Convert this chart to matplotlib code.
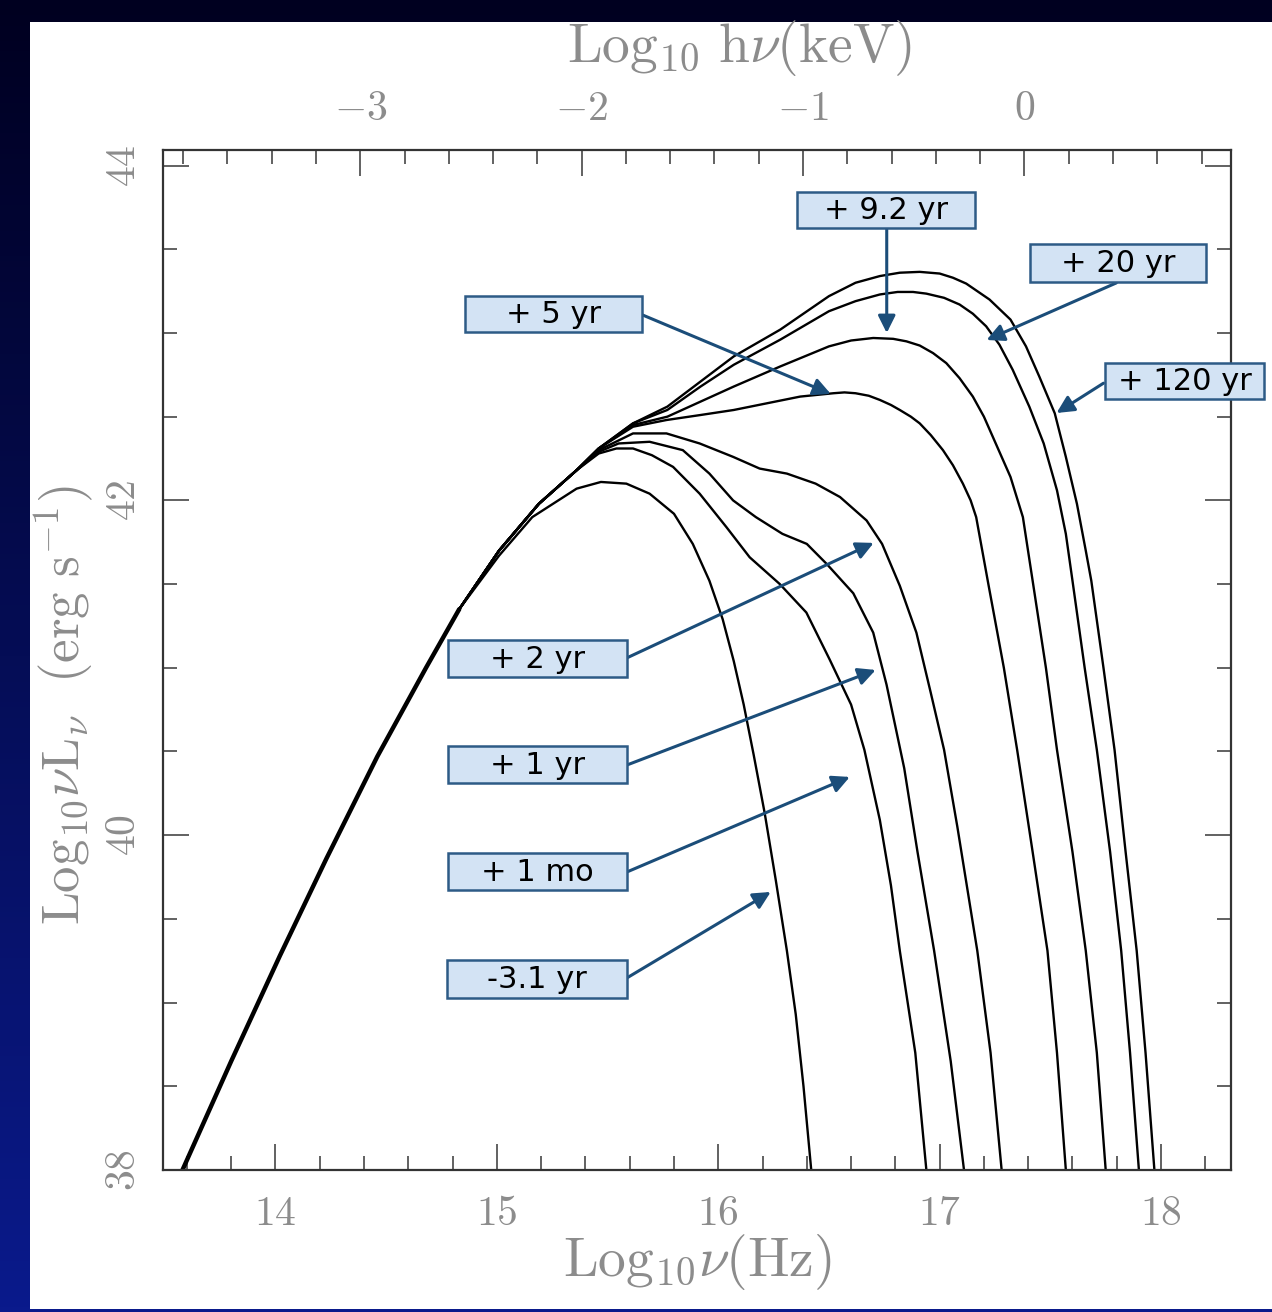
import numpy as np
import matplotlib
matplotlib.use('Agg')
import matplotlib.pyplot as plt
from matplotlib.patches import Rectangle

plt.rcParams['mathtext.fontset'] = 'cm'

# log10 nu (Hz) vs log10 nu L_nu (erg/s)
# shared Rayleigh-Jeans rise
rise_x = [13.58, 13.80, 14.02, 14.23, 14.46, 14.68, 14.83]
rise_y = [38.00, 38.65, 39.28, 39.86, 40.47, 41.00, 41.35]

# each epoch after it leaves the common rise
m3_1yr_x = [15.01, 15.16, 15.36, 15.47, 15.585, 15.69, 15.80, 15.885, 15.96, 16.02, 16.07,
            16.115, 16.16, 16.21, 16.26, 16.31, 16.35, 16.385, 16.42]
m3_1yr_y = [41.67, 41.90, 42.07, 42.11, 42.10, 42.04, 41.92, 41.74, 41.52, 41.29, 41.04,
            40.78, 40.48, 40.13, 39.73, 39.31, 38.93, 38.50, 38.00]

p1mo_x = [15.01, 15.19, 15.36, 15.46, 15.54, 15.615, 15.70, 15.796, 15.916, 16.037, 16.142,
          16.278, 16.398, 16.503, 16.60, 16.66, 16.73, 16.78, 16.82, 16.89, 16.94]
p1mo_y = [41.70, 41.98, 42.18, 42.28, 42.31, 42.31, 42.27, 42.20, 42.04, 41.84, 41.66,
          41.50, 41.33, 41.05, 40.78, 40.51, 40.09, 39.70, 39.31, 38.70, 38.00]

p1yr_x = [15.01, 15.19, 15.36, 15.46, 15.55, 15.69, 15.84, 15.96, 16.067, 16.17, 16.29,
          16.40, 16.49, 16.61, 16.70, 16.76, 16.84, 16.90, 16.975, 17.05, 17.11]
p1yr_y = [41.70, 41.98, 42.18, 42.29, 42.34, 42.35, 42.30, 42.16, 42.00, 41.90, 41.80,
          41.74, 41.62, 41.445, 41.21, 40.90, 40.40, 39.90, 39.31, 38.65, 38.00]

p2yr_x = [15.01, 15.19, 15.36, 15.46, 15.615, 15.766, 15.916, 16.067, 16.187, 16.31, 16.44,
          16.55, 16.67, 16.74, 16.82, 16.895, 16.96, 17.02, 17.08, 17.17, 17.23, 17.28]
p2yr_y = [41.70, 41.98, 42.18, 42.30, 42.40, 42.40, 42.34, 42.26, 42.19, 42.16, 42.10,
          42.02, 41.88, 41.74, 41.49, 41.21, 40.85, 40.51, 40.05, 39.31, 38.70, 38.00]

p5yr_x = [15.01, 15.19, 15.36, 15.46, 15.615, 15.766, 15.92, 16.07, 16.22, 16.37, 16.52,
          16.57, 16.62, 16.68, 16.73, 16.78, 16.82, 16.87, 16.91, 16.96, 17.015, 17.06,
          17.105, 17.14, 17.165, 17.22, 17.29, 17.35, 17.42, 17.487, 17.53, 17.57]
p5yr_y = [41.70, 41.98, 42.18, 42.31, 42.44, 42.48, 42.51, 42.54, 42.58, 42.62, 42.64,
          42.645, 42.64, 42.625, 42.60, 42.57, 42.54, 42.50, 42.46, 42.39, 42.30, 42.21,
          42.10, 42.00, 41.90, 41.50, 41.00, 40.51, 39.90, 39.31, 38.70, 38.00]

p9yr_x = [15.01, 15.19, 15.36, 15.46, 15.615, 15.77, 15.92, 16.07, 16.28, 16.50, 16.60,
          16.70, 16.79, 16.85, 16.91, 16.97, 17.03, 17.09, 17.15, 17.20, 17.24, 17.32,
          17.376, 17.42, 17.48, 17.53, 17.60, 17.66, 17.71, 17.75]
p9yr_y = [41.70, 41.98, 42.18, 42.31, 42.45, 42.50, 42.59, 42.68, 42.80, 42.92, 42.955,
          42.97, 42.965, 42.95, 42.925, 42.88, 42.82, 42.73, 42.62, 42.50, 42.38, 42.14,
          41.90, 41.52, 41.00, 40.51, 39.90, 39.31, 38.70, 38.00]

p20yr_x = [15.01, 15.19, 15.36, 15.46, 15.615, 15.77, 15.92, 16.07, 16.28, 16.50, 16.62,
           16.73, 16.81, 16.88, 16.94, 17.02, 17.09, 17.15, 17.21, 17.27, 17.33, 17.405,
           17.47, 17.53, 17.57, 17.60, 17.655, 17.71, 17.77, 17.82, 17.86, 17.90]
p20yr_y = [41.70, 41.98, 42.18, 42.31, 42.46, 42.54, 42.68, 42.81, 42.96, 43.13, 43.19,
           43.23, 43.245, 43.245, 43.235, 43.21, 43.17, 43.115, 43.04, 42.93, 42.78, 42.56,
           42.34, 42.06, 41.80, 41.52, 41.00, 40.51, 39.90, 39.31, 38.70, 38.00]

p120yr_x = [15.01, 15.19, 15.36, 15.46, 15.615, 15.77, 15.92, 16.07, 16.28, 16.50, 16.62,
            16.73, 16.82, 16.91, 17.00, 17.06, 17.12, 17.225, 17.32, 17.39, 17.45, 17.52,
            17.57, 17.62, 17.66, 17.685, 17.74, 17.79, 17.84, 17.89, 17.93, 17.97]
p120yr_y = [41.70, 41.98, 42.18, 42.31, 42.46, 42.56, 42.71, 42.86, 43.02, 43.22, 43.30,
            43.34, 43.36, 43.365, 43.355, 43.33, 43.295, 43.20, 43.08, 42.92, 42.74, 42.52,
            42.26, 41.98, 41.70, 41.52, 41.00, 40.51, 39.90, 39.31, 38.70, 38.00]

tails = [(m3_1yr_x, m3_1yr_y), (p1mo_x, p1mo_y), (p1yr_x, p1yr_y), (p2yr_x, p2yr_y),
         (p5yr_x, p5yr_y), (p9yr_x, p9yr_y), (p20yr_x, p20yr_y), (p120yr_x, p120yr_y)]

epoch_labels = ['-3.1 yr', '+ 1 mo', '+ 1 yr', '+ 2 yr', '+ 5 yr', '+ 9.2 yr', '+ 20 yr', '+ 120 yr']

# log10(h nu / keV) = log10 nu - 17.383
kev_offset = 17.383

# callout layout: box (x0, y0, x1, y1), arrow start, arrow tip, in data units
callouts = [
    ((14.774, 39.027, 15.587, 39.254), (15.587, 39.147), (16.237, 39.661)),
    ((14.779, 39.673, 15.587, 39.894), (15.587, 39.780), (16.594, 40.348)),
    ((14.779, 40.312, 15.587, 40.533), (15.587, 40.419), (16.711, 40.987)),
    ((14.779, 40.945, 15.587, 41.166), (15.587, 41.059), (16.702, 41.746)),
    ((14.856, 43.006, 15.655, 43.221), (15.659, 43.107), (16.508, 42.636)),
    ((16.354, 43.627, 17.158, 43.842), (16.761, 43.627), (16.761, 43.000)),
    ((17.406, 43.305, 18.205, 43.532), (17.798, 43.299), (17.212, 42.958)),
    ((17.745, 42.606, 18.467, 42.821), (17.740, 42.700), (17.528, 42.522)),
]

fig = plt.figure(figsize=(12.72, 13.12), dpi=100)
fig.patch.set_facecolor('#000020')

# slide background: dark navy gradient with a white panel
bg = fig.add_axes([0, 0, 1, 1], zorder=-10)
grad = np.linspace(0, 1, 256).reshape(-1, 1)
cmap = matplotlib.colors.LinearSegmentedColormap.from_list('slide', ['#0a1a8c', '#000020'])
bg.imshow(grad, aspect='auto', cmap=cmap, extent=[0, 1, 0, 1], origin='lower')
bg.add_patch(Rectangle((30 / 1272, 3 / 1312), 1 - 30 / 1272, 1 - 25 / 1312,
                       facecolor='white', edgecolor='none'))
bg.set_xlim(0, 1)
bg.set_ylim(0, 1)
bg.axis('off')

ax = fig.add_axes([163 / 1272, 1 - 1170 / 1312, (1231 - 163) / 1272, (1170 - 150) / 1312])
ax.set_facecolor('white')

# common rise drawn heavier, since all eight curves lie on top of each other there
ax.plot(rise_x, rise_y, color='black', lw=3.2, solid_capstyle='round')
for tx, ty in tails:
    ax.plot(rise_x[-1:] + tx, rise_y[-1:] + ty, color='black', lw=1.7,
            solid_joinstyle='round')

ax.set_xlim(13.492, 18.316)
ax.set_ylim(38.0, 44.093)

grey = '#8c8c8c'
ax.set_xticks([14, 15, 16, 17, 18])
ax.set_xticks(np.arange(13.6, 18.3, 0.2), minor=True)
ax.set_yticks([38, 40, 42, 44])
ax.set_yticks(np.arange(38.5, 44.0, 0.5), minor=True)
ax.xaxis.set_major_formatter(matplotlib.ticker.FuncFormatter(lambda v, p: r'$%d$' % round(v)))
ax.yaxis.set_major_formatter(matplotlib.ticker.FuncFormatter(lambda v, p: r'$%d$' % round(v)))
ax.tick_params(which='both', direction='in', color='#555555', width=1.3)
ax.tick_params(which='major', length=19)
ax.tick_params(which='minor', length=10)
ax.tick_params(axis='x', which='both', top=False, bottom=True, labelsize=30,
               labelcolor=grey, pad=16)
ax.tick_params(axis='y', which='both', left=True, right=True, labelsize=30,
               labelcolor=grey, pad=14, labelrotation=90)
for lab in ax.get_yticklabels():
    lab.set_va('center')
for s in ax.spines.values():
    s.set_linewidth(1.6)
    s.set_color('#333333')

top = ax.secondary_xaxis('top', functions=(lambda x: x - kev_offset, lambda x: x + kev_offset))
top.set_xticks([-3, -2, -1, 0])
top.set_xticks(np.arange(-3.8, 0.9, 0.2), minor=True)
top.xaxis.set_major_formatter(matplotlib.ticker.FuncFormatter(lambda v, p: r'$%d$' % round(v)))
top.tick_params(which='both', direction='in', color='#555555', width=1.3,
                labelsize=30, labelcolor=grey, pad=15)
top.tick_params(which='major', length=19)
top.tick_params(which='minor', length=10)
top.spines['top'].set_visible(False)

fig.text(740 / 1272, 1 - 48 / 1312, r'$\mathrm{Log}_{10}\ \mathrm{h}\nu(\mathrm{keV})$',
         fontsize=40, color=grey, ha='center', va='center')
fig.text(697 / 1272, 1 - 1262 / 1312, r'$\mathrm{Log}_{10}\nu(\mathrm{Hz})$',
         fontsize=40, color=grey, ha='center', va='center')
fig.text(64 / 1272, 1 - 705 / 1312,
         r'$\mathrm{Log}_{10}\nu\mathrm{L}_{\nu}\ \ (\mathrm{erg\ s}^{-1})$',
         fontsize=38, color=grey, ha='center', va='center', rotation=90)

box_face = '#d3e3f4'
box_edge = '#2d5b86'
arrow_col = '#1b4d79'
for label, (box, start, tip) in zip(epoch_labels, callouts):
    x0, y0, x1, y1 = box
    ax.add_patch(Rectangle((x0, y0), x1 - x0, y1 - y0, facecolor=box_face,
                           edgecolor=box_edge, lw=1.8, clip_on=False, zorder=6))
    ax.text((x0 + x1) / 2, (y0 + y1) / 2 - 0.005, label, fontsize=22,
            family='DejaVu Sans', color='black', ha='center', va='center',
            zorder=7, clip_on=False)
    ax.annotate('', xy=tip, xytext=start, annotation_clip=False, zorder=5,
                arrowprops=dict(arrowstyle='-|>', color=arrow_col, lw=2.2,
                                mutation_scale=26, shrinkA=0, shrinkB=0))

fig.savefig('out.png', dpi=100, facecolor=fig.get_facecolor())
